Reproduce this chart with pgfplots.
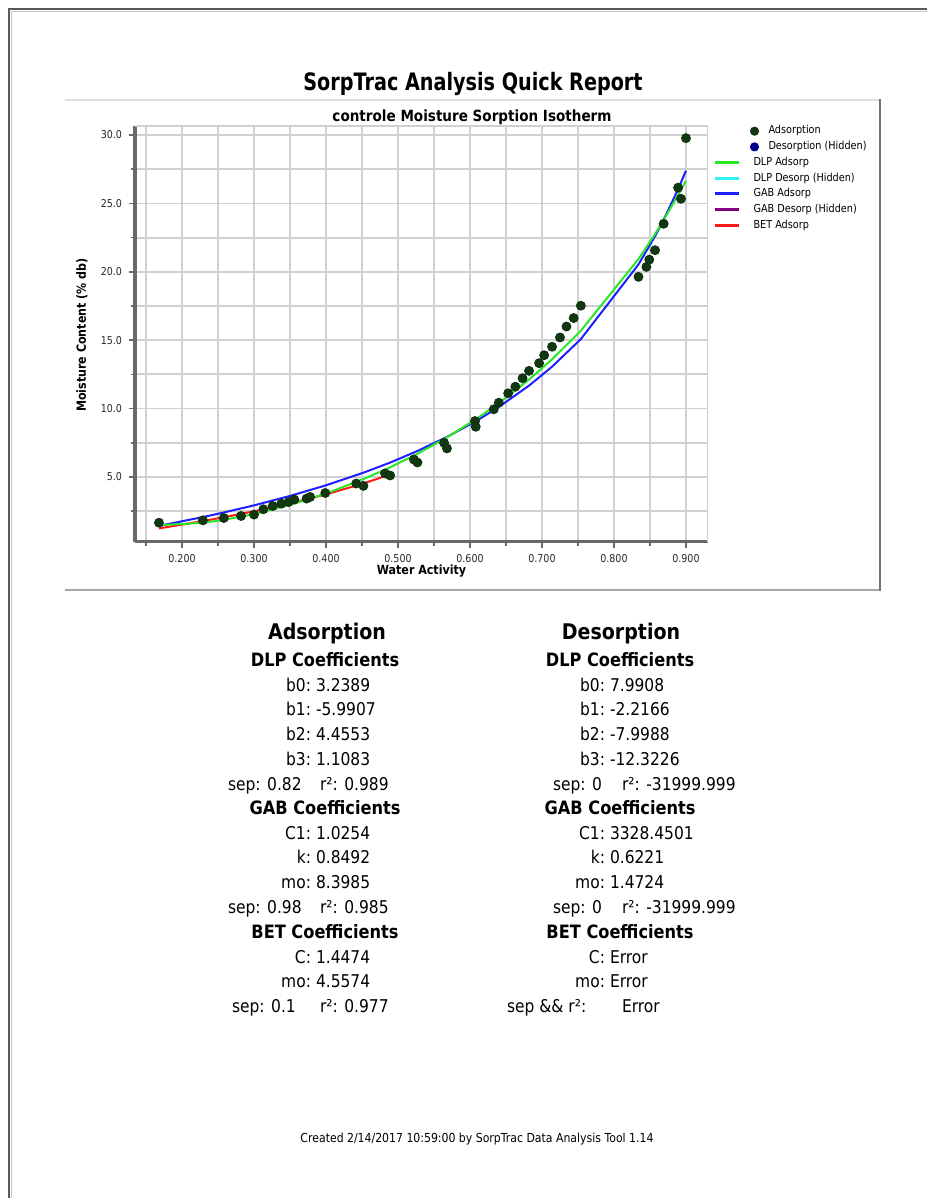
\documentclass[border=0pt]{standalone}
\usepackage{fontspec}
\setmainfont{DejaVu Sans}[FakeStretch=0.88]
\newfontfamily\titlefont{DejaVu Sans}[FakeStretch=0.8]
\usepackage{pgfplots}
\pgfplotsset{compat=1.18}
\definecolor{ptgreen}{RGB}{18,56,18}
\definecolor{ptnavy}{RGB}{0,0,140}
\definecolor{dlpgreen}{RGB}{40,232,40}
\definecolor{dlpcyan}{RGB}{40,245,245}
\definecolor{gabblue}{RGB}{30,30,255}
\definecolor{gabpurple}{RGB}{128,0,128}
\definecolor{betred}{RGB}{255,25,25}
\definecolor{gridgray}{RGB}{208,208,208}
\definecolor{spinegray}{RGB}{105,105,105}
\pgfplotsset{
  linleg/.style={legend image code/.code={\draw[##1, line width=1.5pt] (0pt,0pt) -- (12pt,0pt); \path[draw=none, fill=none] (0pt,0pt) -- (19.5pt,0pt);}},
  markleg/.style={legend image code/.code={\path[draw=none, fill=none] (0pt,0pt) -- (19.5pt,0pt); \fill[##1, draw=none, overlay] (20pt,0pt) circle (2.3pt);}},
}
\begin{document}
\begin{tikzpicture}[x=0.5pt,y=0.5pt, txt/.style={inner sep=0pt, outer sep=0pt}]
\useasboundingbox (0,0) rectangle (927,1198);
% page frame
\draw[line width=1pt, color=black!65] (9,0) -- (9,1189) -- (927,1189);
\draw[line width=0.5pt, color=black!22] (11.5,0) -- (11.5,1186.5) -- (927,1186.5);
% chart panel
\draw[line width=0.75pt, color=black!12] (65,1098) -- (880,1098);
\draw[line width=0.75pt, color=black!35] (65,608) -- (880,608);
\draw[line width=1.2pt, color=black!55] (880,1099) -- (880,607);
% titles
\node[txt, anchor=base, font=\titlefont\bfseries\fontsize{12}{14}\selectfont] at (473,1107.3) {SorpTrac Analysis Quick Report};
\node[txt, anchor=base, font=\bfseries\fontsize{7.7}{9}\selectfont] at (472,1076.4) {controle Moisture Sorption Isotherm};

\begin{axis}[
  at={(67.5pt,328.15pt)}, anchor=south west,
  scale only axis, width=286.5pt, height=207.85pt,
  xmin=0.1347, xmax=0.9306, ymin=0.27, ymax=30.66,
  axis lines*=left,
  axis line style={spinegray, line width=1.6pt},
  xtick={0.2,0.3,0.4,0.5,0.6,0.7,0.8,0.9},
  minor xtick={0.15,0.25,0.35,0.45,0.55,0.65,0.75,0.85},
  ytick={5,10,15,20,25,30},
  minor ytick={2.5,7.5,12.5,17.5,22.5,27.5},
  grid=both,
  major grid style={gridgray, line width=0.9pt},
  minor grid style={gridgray, line width=0.9pt},
  tick align=outside,
  major tick length=3pt, minor tick length=2pt,
  tick style={spinegray, line width=0.8pt},
  xticklabel style={/pgf/number format/.cd, fixed, fixed zerofill, precision=3, assume math mode=true},
  yticklabel style={/pgf/number format/.cd, fixed, fixed zerofill, precision=1, assume math mode=true},
  tick label style={font=\fontsize{5.4}{6}\selectfont, text=black!85},
  xlabel={Water Activity},
  ylabel={Moisture Content (\% db)},
  label style={font=\bfseries\fontsize{6.3}{7}\selectfont},
  xlabel style={at={(axis description cs:0.5,-0.0794)}, anchor=base},
  ylabel style={at={(axis description cs:-0.0925,0.497)}, anchor=center},
  legend style={at={(axis description cs:1,1)}, anchor=north west, xshift=2.5pt,
    draw=none, fill=none, inner sep=0pt, outer sep=0pt, row sep=2.65pt, column sep=0pt,
    font=\fontsize{5.5}{6}\selectfont,
    nodes={inner sep=0pt, text height=4pt, text depth=1.2pt}},
  legend cell align=left,
]
\addplot[forget plot, color=betred, line width=1pt] coordinates {
(0.168,1.239) (0.229,1.777) (0.258,2.056) (0.300,2.493) (0.350,3.071) (0.400,3.730) (0.452,4.526) (0.489,5.179)};
\addplot[forget plot, color=gabblue, line width=1pt] coordinates {
(0.168,1.428) (0.229,2.069) (0.258,2.403) (0.300,2.925) (0.350,3.615) (0.400,4.392) (0.452,5.313) (0.489,6.052) (0.527,6.898) (0.568,7.927) (0.608,9.074) (0.640,10.113) (0.682,11.679) (0.714,13.063) (0.754,15.085) (0.834,20.534) (0.857,22.603) (0.869,23.805) (0.889,26.030) (0.900,27.390)};
\addplot[forget plot, color=dlpgreen, line width=1pt] coordinates {
(0.168,1.479) (0.229,1.650) (0.258,1.862) (0.300,2.288) (0.350,2.958) (0.400,3.796) (0.452,4.844) (0.489,5.704) (0.527,6.693) (0.568,7.894) (0.608,9.214) (0.640,10.390) (0.682,12.121) (0.714,13.604) (0.754,15.698) (0.834,20.927) (0.857,22.760) (0.869,23.785) (0.889,25.601) (0.900,26.652)};
\addplot[forget plot, only marks, mark=*, mark size=2.25pt, mark options={fill=ptgreen, draw=ptgreen!80!black}] coordinates {
(0.168,1.66) (0.229,1.83) (0.258,2.00) (0.282,2.15) (0.300,2.25) (0.313,2.64) (0.326,2.88) (0.338,3.05) (0.348,3.17) (0.356,3.35) (0.373,3.42) (0.378,3.54) (0.399,3.83) (0.442,4.52) (0.452,4.35) (0.482,5.26) (0.489,5.11) (0.522,6.28) (0.527,6.06) (0.564,7.50) (0.568,7.09) (0.607,9.09) (0.608,8.67) (0.633,9.95) (0.640,10.43) (0.653,11.12) (0.663,11.60) (0.673,12.22) (0.682,12.76) (0.696,13.32) (0.703,13.90) (0.714,14.52) (0.725,15.20) (0.734,16.00) (0.744,16.62) (0.754,17.52) (0.834,19.63) (0.845,20.36) (0.849,20.89) (0.857,21.58) (0.869,23.51) (0.889,26.15) (0.893,25.34) (0.900,29.77)};
\draw[gridgray, line width=0.8pt] (rel axis cs:0,1) -- (rel axis cs:1,1) -- (rel axis cs:1,0);
\addlegendimage{markleg, color=ptgreen}
\addlegendentry{\hspace*{7.5pt}Adsorption}
\addlegendimage{markleg, color=ptnavy}
\addlegendentry{\hspace*{7.5pt}Desorption (Hidden)}
\addlegendimage{linleg, color=dlpgreen}
\addlegendentry{DLP Adsorp}
\addlegendimage{linleg, color=dlpcyan}
\addlegendentry{DLP Desorp (Hidden)}
\addlegendimage{linleg, color=gabblue}
\addlegendentry{GAB Adsorp}
\addlegendimage{linleg, color=gabpurple}
\addlegendentry{GAB Desorp (Hidden)}
\addlegendimage{linleg, color=betred}
\addlegendentry{BET Adsorp}
\end{axis}

% coefficient block
\begin{scope}[every node/.style={txt}]
\node[anchor=base, font=\bfseries\fontsize{10.8}{13}\selectfont] at (327,558.3) {Adsorption};
\node[anchor=base, font=\bfseries\fontsize{10.8}{13}\selectfont] at (621,558.3) {Desorption};
\foreach \yy/\tt in {531.3/DLP Coefficients, 383.3/GAB Coefficients, 259.3/BET Coefficients}{
  \node[anchor=base, font=\bfseries\fontsize{9.2}{11}\selectfont] at (325,\yy) {\tt};
  \node[anchor=base, font=\bfseries\fontsize{9.2}{11}\selectfont] at (620,\yy) {\tt};
}
\begin{scope}[font=\fontsize{8.8}{10}\selectfont]
\foreach \yy/\la/\va in {506.6/b0:/3.2389, 482.6/b1:/-5.9907, 457.6/b2:/4.4553, 432.6/b3:/1.1083,
   358.6/C1:/1.0254, 334.6/k:/0.8492, 309.6/mo:/8.3985, 234.6/C:/1.4474, 210.6/mo:/4.5574}{
  \node[anchor=base east] at (311,\yy) {\la};
  \node[anchor=base west] at (316,\yy) {\va};
}
\foreach \yy/\la/\va in {506.6/b0:/7.9908, 482.6/b1:/-2.2166, 457.6/b2:/-7.9988, 432.6/b3:/-12.3226,
   358.6/C1:/3328.4501, 334.6/k:/0.6221, 309.6/mo:/1.4724, 234.6/C:/Error, 210.6/mo:/Error}{
  \node[anchor=base east] at (605,\yy) {\la};
  \node[anchor=base west] at (610,\yy) {\va};
}
\node[anchor=base west] at (228,407.6) {sep: 0.82};
\node[anchor=base west] at (320,407.6) {r²: 0.989};
\node[anchor=base west] at (228,284.6) {sep: 0.98};
\node[anchor=base west] at (320,284.6) {r²: 0.985};
\node[anchor=base west] at (232,185.6) {sep: 0.1};
\node[anchor=base west] at (320,185.6) {r²: 0.977};
\node[anchor=base west] at (553,407.6) {sep: 0};
\node[anchor=base west] at (622,407.6) {r²: -31999.999};
\node[anchor=base west] at (553,284.6) {sep: 0};
\node[anchor=base west] at (622,284.6) {r²: -31999.999};
\node[anchor=base west] at (507,185.6) {sep \&\& r²:};
\node[anchor=base west] at (622,185.6) {Error};
\end{scope}
\node[anchor=base, font=\fontsize{6.2}{7}\selectfont] at (477,55.5) {Created 2/14/2017 10:59:00 by SorpTrac Data Analysis Tool 1.14};
\end{scope}
\end{tikzpicture}
\end{document}
